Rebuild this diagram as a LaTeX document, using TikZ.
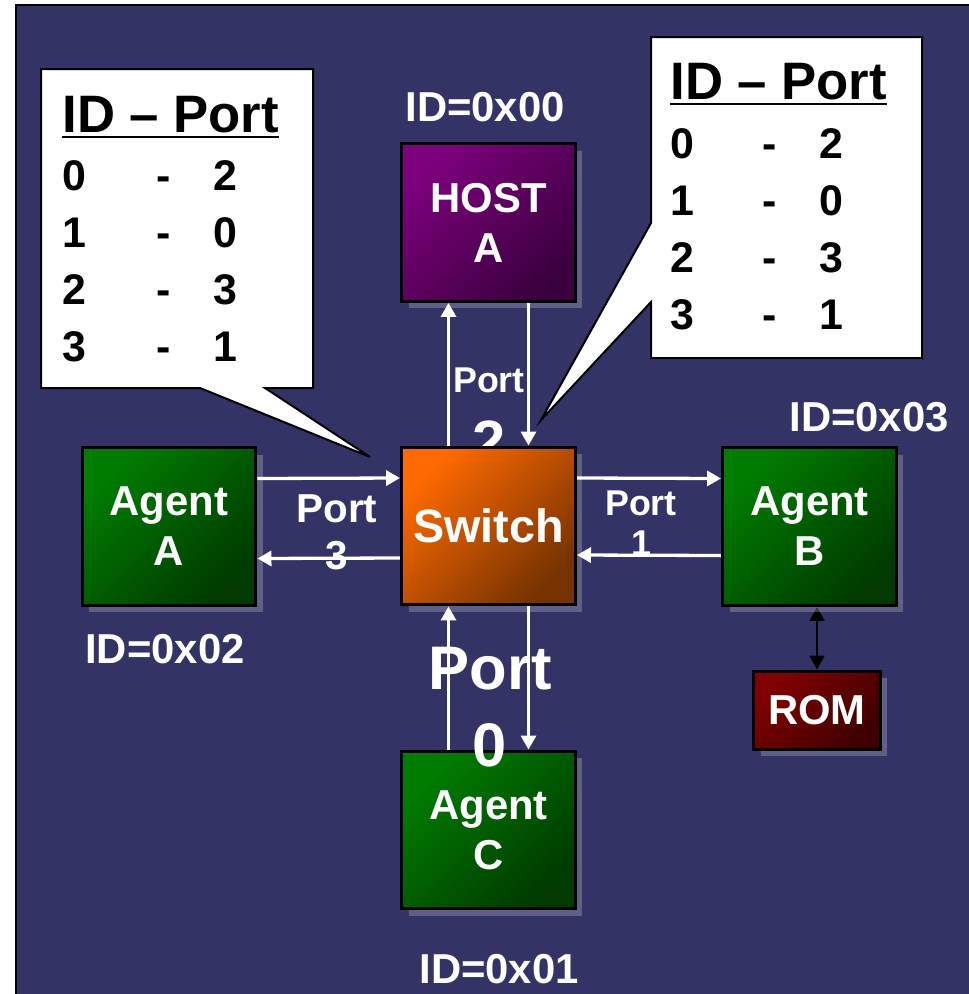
\documentclass[tikz,border=0pt]{standalone}
\usepackage{fontspec}
\setmainfont{Liberation Sans}
\usetikzlibrary{arrows.meta, calc, shadows, backgrounds}

\definecolor{slide}{RGB}{51,51,102}
\definecolor{agentlt}{RGB}{0,125,0}
\definecolor{agentdk}{RGB}{0,58,0}
\definecolor{hostlt}{RGB}{125,0,125}
\definecolor{hostdk}{RGB}{58,0,62}
\definecolor{switchlt}{RGB}{255,106,0}
\definecolor{switchdk}{RGB}{118,50,0}
\definecolor{romlt}{RGB}{130,0,0}
\definecolor{romdk}{RGB}{62,0,0}

\newcommand{\fsz}[2]{\fontsize{#1}{#2}\selectfont\bfseries}

\tikzset{
  unit/.style={draw=black, line width=0.06cm, minimum width=3.48cm, minimum height=3.16cm,
    align=center, text=white, font=\fsz{23.8}{28.4},
    drop shadow={shadow xshift=0.14cm, shadow yshift=-0.14cm, fill=white, opacity=0.22}},
  agent/.style={unit, top color=agentlt, bottom color=agentdk, shading angle=45},
  host/.style={unit, top color=hostlt, bottom color=hostdk, shading angle=45},
  switchbox/.style={unit, top color=switchlt, bottom color=switchdk, shading angle=45, font=\fsz{26.6}{32}},
  rombox/.style={unit, minimum width=2.54cm, minimum height=1.56cm, top color=romlt, bottom color=romdk, shading angle=45},
  idlbl/.style={inner sep=0pt, text=white, font=\fsz{23.8}{28}},
  portlbl/.style={inner sep=0pt, text=white, align=center, font=\fsz{20.4}{30}},
  link/.style={draw=white, line width=0.066cm, -{Triangle[length=0.28cm, width=0.3cm]}},
  romlink/.style={draw=black, line width=0.05cm, {Triangle[length=0.28cm, width=0.3cm]}-{Triangle[length=0.28cm, width=0.3cm]}},
  bubble/.style={fill=white, draw=black, line width=0.04cm},
  tabtxt/.style={inner sep=0pt, text=black, font=\fsz{24.4}{29}},
  hdrtxt/.style={inner sep=0pt, text=black, font=\fsz{30}{36}},
}

\begin{document}
\begin{tikzpicture}[x=0.02cm, y=-0.02cm]
    \useasboundingbox (0,0) rectangle (969,994);

    % switch and the units around it
    \node[host] (host) at (488.5,222.5) {HOST\\A};
    \node[switchbox] (switch) at (488.5,526) {Switch};
    \node[agent] (agentA) at (169,526.5) {Agent\\A};
    \node[agent] (agentB) at (809.5,526.5) {Agent\\B};
    \node[agent] (agentC) at (488.5,830) {Agent\\C};
    \node[rombox] (rom) at (817,710) {ROM};

    \begin{pgfonlayer}{background}
        \fill[white] (0,0) rectangle (969,994);
        \draw[fill=slide, line width=0.04cm] (16,5) rectangle (1000,1020);
        \node[portlbl] (port2) at (489,415) {Port\\[9.7pt]{\fsz{34}{40}2}};
        \node[portlbl, font=\fsz{23}{26.6}] (port3) at (337,532) {Port\\3};
        \node[portlbl, font=\fsz{20.4}{22.7}] (port1) at (641,523) {Port\\1};
        % links to the switch
        \draw[link] ($(switch.north)+(-40,0)$) -- ($(host.south)+(-40,0)$);
        \draw[link] ($(host.south)+(40,0)$) -- ($(switch.north)+(40,0)$);
        \draw[link] ($(agentA.east)+(0,-48)$) -- ($(switch.west)+(0,-48)$);
        \draw[link] ($(switch.west)+(0,32)$) -- ($(agentA.east)+(0,32)$);
        \draw[link] ($(switch.east)+(0,-48)$) -- ($(agentB.west)+(0,-48)$);
        \draw[link] ($(agentB.west)+(0,29)$) -- ($(switch.east)+(0,29)$);
        \draw[link] ($(agentC.north)+(-40,0)$) -- ($(switch.south)+(-40,0)$);
        \draw[link] ($(switch.south)+(40,0)$) -- ($(agentC.north)+(40,0)$);
        \draw[romlink] (rom.north) -- (rom.north |- agentB.south);
    \end{pgfonlayer}

    \node[portlbl, font=\fsz{35}{43.7}] (port0) at (490,707) {Port\\0};

    % ids
    \node[idlbl] (idHost) at (485,107) {ID=0x00};
    \node[idlbl] (idB) at (869,417) {ID=0x03};
    \node[idlbl] (idA) at (165,649) {ID=0x02};
    \node[idlbl] (idC) at (499,969) {ID=0x01};

    % routing tables
    \draw[bubble] (41,69) -- (313,69) -- (313,388) -- (265,388) -- (370,457) -- (200,388) -- (41,388) -- cycle;
    \node[hdrtxt, anchor=base west] (hdrL) at (62,132) {ID -- Port};
    \draw[line width=0.05cm] ($(hdrL.base west)+(0,5)$) -- ($(hdrL.base east)+(0,5)$);
    \foreach \id/\port [count=\r from 0] in {0/2,1/0,2/3,3/1} {
        \node[tabtxt, anchor=base west] (rowL\r) at (62,{190+57*\r}) {\id};
        \node[tabtxt, anchor=base] (dashL\r) at (164,{190+57*\r}) {-};
        \node[tabtxt, anchor=base] (portL\r) at (225,{190+57*\r}) {\port};
    }

    \draw[bubble] (651,37) -- (922,37) -- (922,358) -- (651,358) -- (651,302) -- (541,420) -- (651,223) -- cycle;
    \node[hdrtxt, anchor=base west] (hdrR) at (670,99) {ID -- Port};
    \draw[line width=0.05cm] ($(hdrR.base west)+(0,5)$) -- ($(hdrR.base east)+(0,5)$);
    \foreach \id/\port [count=\r from 0] in {0/2,1/0,2/3,3/1} {
        \node[tabtxt, anchor=base west] (rowR\r) at (670,{158+57*\r}) {\id};
        \node[tabtxt, anchor=base] (dashR\r) at (770,{158+57*\r}) {-};
        \node[tabtxt, anchor=base] (portR\r) at (831,{158+57*\r}) {\port};
    }
\end{tikzpicture}
\end{document}
